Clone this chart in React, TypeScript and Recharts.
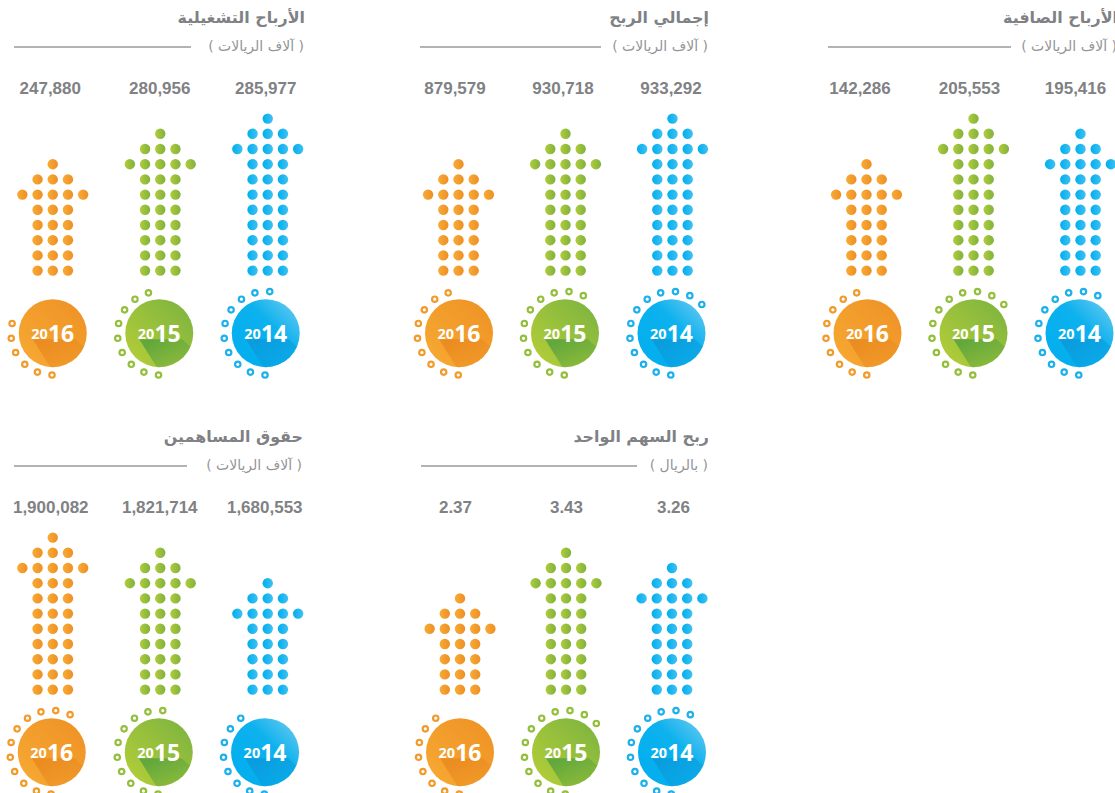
import { ScatterChart, Scatter, XAxis, YAxis } from "recharts";

const years = ["2016", "2015", "2014"];

// Values printed above each arrow, left to right
const netProfit = [142286, 205553, 195416];
const grossProfit = [879579, 930718, 933292];
const operatingProfit = [247880, 280956, 285977];
const shareholdersEquity = [1900082, 1821714, 1680553];
const earningsPerShare = [2.37, 3.43, 3.26];

// Rows of dots in each arrow
const netProfitRows = [8, 11, 10];
const grossProfitRows = [8, 10, 11];
const operatingProfitRows = [8, 10, 11];
const shareholdersEquityRows = [11, 10, 8];
const earningsPerShareRows = [7, 10, 9];

// Small rings around each year badge
const netProfitRings = [9, 12, 11];
const grossProfitRings = [9, 11, 12];
const operatingProfitRings = [6, 9, 10];
const shareholdersEquityRings = [11, 10, 8];
const earningsPerShareRings = [8, 12, 11];

const thousandsUnit = "( آلاف الريالات )";
const riyalUnit = "( بالريال )";

const ROW_PX = 15.2;
const ROWS_ABOVE = 13;
const ROWS_BELOW = 8;
const LABEL_ROW = 12;
const BADGE_ROW = -4.12;

const COLORS: Record<string, string> = {
  "2016": "#f29b2b",
  "2015": "#93bf3d",
  "2014": "#1cb0ec",
};

const panels = [
  { id: "net", title: "الأرباح الصافية", unit: thousandsUnit, values: netProfit, rows: netProfitRows, rings: netProfitRings, x0: 866, slot: 107, top: 0, right: 1118, lineFrom: 828, lineTo: 1011, labelDx: [-6.5, -4, -5], badgeDx: [1, 0, -1] },
  { id: "gross", title: "إجمالي الربح", unit: thousandsUnit, values: grossProfit, rows: grossProfitRows, rings: grossProfitRings, x0: 458.5, slot: 107, top: 0, right: 709, lineFrom: 420, lineTo: 601, labelDx: [-3.5, -2.5, -1.5], badgeDx: [0.5, -0.5, -1] },
  { id: "operating", title: "الأرباح التشغيلية", unit: thousandsUnit, values: operatingProfit, rows: operatingProfitRows, rings: operatingProfitRings, x0: 53, slot: 107.5, top: 0, right: 305, lineFrom: 14, lineTo: 191, labelDx: [-2.5, -0.5, -2], badgeDx: [0, -1, -2] },
  { id: "equity", title: "حقوق المساهمين", unit: thousandsUnit, values: shareholdersEquity, rows: shareholdersEquityRows, rings: shareholdersEquityRings, x0: 53, slot: 107.5, top: 419, right: 303, lineFrom: 14, lineTo: 187, labelDx: [-2, -0.5, -3], badgeDx: [-1, -1.5, -2.7] },
  { id: "eps", title: "ربح السهم الواحد", unit: riyalUnit, values: earningsPerShare, rows: earningsPerShareRows, rings: earningsPerShareRings, x0: 460, slot: 106, top: 419, right: 709, lineFrom: 421, lineTo: 637, labelDx: [-4.5, 0.5, 1.5], badgeDx: [0, 0, 0] },
];

const arrowPoints = (rows: number, slotIndex: number, step: number) => {
  const points: { x: number; y: number }[] = [];
  for (let row = 0; row < rows; row++) {
    const fromTop = rows - 1 - row;
    const half = fromTop === 0 ? 0 : fromTop === 2 ? 2 : 1;
    for (let col = -half; col <= half; col++) {
      points.push({ x: slotIndex + col * step, y: row });
    }
  }
  return points;
};

const formatValue = (v: number) =>
  Number.isInteger(v) ? v.toLocaleString("en-US") : v.toFixed(2);

const Gradients = () => (
  <svg width={0} height={0} style={{ position: "absolute" }}>
    <defs>
      <linearGradient id="dot-2016"><stop offset="0" stopColor="#f8ab36" /><stop offset="1" stopColor="#ee8f24" /></linearGradient>
      <linearGradient id="dot-2015"><stop offset="0" stopColor="#b0cd3a" /><stop offset="1" stopColor="#80b13f" /></linearGradient>
      <linearGradient id="dot-2014"><stop offset="0" stopColor="#00aeef" /><stop offset="1" stopColor="#3fc1f1" /></linearGradient>
      <linearGradient id="badge-2016" x1="1" y1="0" x2="0" y2="1"><stop offset="0" stopColor="#ee9125" /><stop offset="1" stopColor="#f7aa33" /></linearGradient>
      <linearGradient id="badge-2015" x1="1" y1="0" x2="0" y2="1"><stop offset="0.1" stopColor="#80b53f" /><stop offset="0.85" stopColor="#aecb39" /></linearGradient>
      <linearGradient id="badge-2014" x1="1" y1="0" x2="0" y2="1"><stop offset="0.12" stopColor="#55c5f0" /><stop offset="0.4" stopColor="#0db1ee" /><stop offset="1" stopColor="#00aeef" /></linearGradient>
      <linearGradient id="shadow-2016" x1="0" y1="0" x2="1" y2="1"><stop offset="0.1" stopColor="#ea8a1f" stopOpacity="0.9" /><stop offset="0.75" stopColor="#ea8a1f" stopOpacity="0" /></linearGradient>
      <linearGradient id="shadow-2015" x1="0" y1="0" x2="1" y2="1"><stop offset="0.1" stopColor="#5fa63c" stopOpacity="0.95" /><stop offset="0.75" stopColor="#5fa63c" stopOpacity="0" /></linearGradient>
      <linearGradient id="shadow-2014" x1="0" y1="0" x2="1" y2="1"><stop offset="0.1" stopColor="#0a9bdc" stopOpacity="0.9" /><stop offset="0.75" stopColor="#0a9bdc" stopOpacity="0" /></linearGradient>
    </defs>
  </svg>
);

const DotShape = ({ cx, cy, year }: any) => (
  <circle cx={cx} cy={cy} r={5.2} fill={`url(#dot-${year})`} />
);

const ValueLabel = ({ cx, cy, dx, text }: any) => (
  <text
    x={cx + dx}
    y={cy}
    textAnchor="middle"
    dominantBaseline="central"
    fontFamily="Liberation Sans"
    fontWeight={700}
    fontSize={17}
    fill="#808184"
  >
    {text}
  </text>
);

const Badge = ({ cx, cy, dx, year, rings, clipId }: any) => {
  const x = cx + dx;
  const ring = [];
  for (let i = 0; i < rings; i++) {
    const angle = ((91 + i * 20.5) * Math.PI) / 180;
    ring.push(
      <circle
        key={i}
        cx={x + 41.8 * Math.cos(angle)}
        cy={cy + 41.8 * Math.sin(angle)}
        r={2.7}
        fill="#fff"
        stroke={COLORS[year]}
        strokeWidth={2.2}
      />
    );
  }
  return (
    <g>
      {ring}
      <clipPath id={clipId}>
        <circle cx={x} cy={cy} r={34} />
      </clipPath>
      <circle cx={x} cy={cy} r={34} fill={`url(#badge-${year})`} />
      <polygon
        clipPath={`url(#${clipId})`}
        points={`${x - 20},${cy + 6} ${x + 23},${cy + 6} ${x + 55},${cy + 36} ${x + 10},${cy + 54}`}
        fill={`url(#shadow-${year})`}
      />
      <text
        x={x}
        y={cy}
        textAnchor="middle"
        dominantBaseline="central"
        fontFamily="Noto Sans"
        fontWeight={700}
        fill="#fff"
      >
        <tspan fontSize={14.5}>{year.slice(0, 2)}</tspan>
        <tspan fontSize={23}>{year.slice(2)}</tspan>
      </text>
    </g>
  );
};

const Panel = ({ panel }: { panel: (typeof panels)[number] }) => {
  const chartTop = panel.top + 271 - ROWS_ABOVE * ROW_PX;
  const chartHeight = (ROWS_ABOVE + ROWS_BELOW) * ROW_PX;
  const step = ROW_PX / panel.slot;

  return (
    <>
      {/* Title and unit */}
      <div
        dir="rtl"
        style={{
          position: "absolute",
          left: panel.right - 300,
          width: 300,
          top: panel.top + 6,
          textAlign: "right",
          whiteSpace: "nowrap",
          fontFamily: "DejaVu Sans",
          fontWeight: 700,
          fontSize: 15.9,
          lineHeight: "24px",
          color: "#808184",
        }}
      >
        {panel.title}
      </div>
      <div
        dir="rtl"
        style={{
          position: "absolute",
          left: panel.right - 301,
          width: 300,
          top: panel.top + 37,
          textAlign: "right",
          whiteSpace: "nowrap",
          fontFamily: "DejaVu Sans",
          fontSize: 14,
          lineHeight: "18px",
          color: "#939598",
        }}
      >
        {panel.unit}
      </div>
      <div
        style={{
          position: "absolute",
          left: panel.lineFrom,
          width: panel.lineTo - panel.lineFrom,
          top: panel.top + 46,
          height: 1.5,
          background: "#b3b3b3",
        }}
      />

      <div style={{ position: "absolute", left: panel.x0 - panel.slot / 2, top: chartTop }}>
        <ScatterChart
          width={panel.slot * 3}
          height={chartHeight}
          margin={{ top: 0, right: 0, bottom: 0, left: 0 }}
        >
          <XAxis type="number" dataKey="x" domain={[-0.5, 2.5]} hide />
          <YAxis type="number" dataKey="y" domain={[-ROWS_BELOW, ROWS_ABOVE]} hide />
          {years.map((year, i) => (
            <Scatter
              key={year}
              data={arrowPoints(panel.rows[i], i, step)}
              isAnimationActive={false}
              shape={(props: any) => <DotShape {...props} year={year} />}
            />
          ))}
          {years.map((year, i) => (
            <Scatter
              key={`label-${year}`}
              data={[{ x: i, y: LABEL_ROW }]}
              isAnimationActive={false}
              shape={(props: any) => (
                <ValueLabel {...props} dx={panel.labelDx[i]} text={formatValue(panel.values[i])} />
              )}
            />
          ))}
          {years.map((year, i) => (
            <Scatter
              key={`badge-${year}`}
              data={[{ x: i, y: BADGE_ROW }]}
              isAnimationActive={false}
              shape={(props: any) => (
                <Badge
                  {...props}
                  dx={panel.badgeDx[i]}
                  year={year}
                  rings={panel.rings[i]}
                  clipId={`clip-${panel.id}-${year}`}
                />
              )}
            />
          ))}
        </ScatterChart>
      </div>
    </>
  );
};

export default function App() {
  return (
    <div
      style={{
        position: "absolute",
        left: 0,
        top: 0,
        width: 1115,
        height: 793,
        overflow: "hidden",
        background: "#fff",
      }}
    >
      <Gradients />
      {panels.map((panel) => (
        <Panel key={panel.id} panel={panel} />
      ))}
    </div>
  );
}
